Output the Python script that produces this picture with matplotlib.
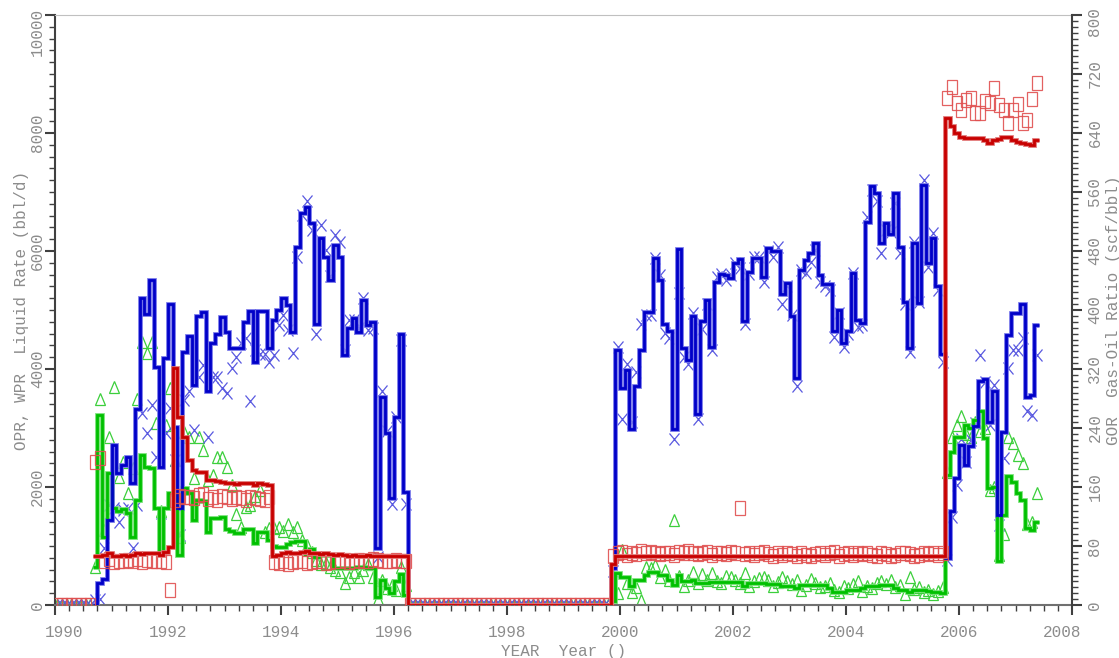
import numpy as np
import matplotlib
matplotlib.use("Agg")
import matplotlib.pyplot as plt
from matplotlib.markers import MarkerStyle
from matplotlib.transforms import Affine2D
from matplotlib.ticker import MultipleLocator

plt.rcParams['font.family'] = ['Liberation Mono', 'DejaVu Sans Mono']

# monthly data, first month is Jan 1990
first_year = 1990
n_pre = 8      # Jan-Aug 1990, no production
n_shut = 43    # Apr 1996 - Oct 1999, well shut in

# simulated values (step lines), period 1: Sep 1990 - Mar 1996
opr_sim_1 = [0, 370, 440, 1440, 2710, 2230, 2370, 2510, 2060, 3330,
             5200, 4940, 5510, 4040, 2340, 4180, 5110, 3020, 1640, 4290,
             4560, 3730, 4890, 4970, 3630, 4440, 4600, 4880, 4630, 4350,
             4350, 4350, 4800, 4980, 4120, 4980, 4980, 4360, 4830, 5000,
             5200, 5080, 4630, 6070, 6640, 6740, 6470, 4770, 6215, 5900,
             5510, 6100, 5900, 4240, 4700, 4860, 4630, 5170, 4750, 4800,
             960, 3530, 2910, 1810, 3190, 4600, 1920]
wpr_sim_1 = [650, 3220, 1150, 2240, 1640, 1600, 1620, 1560, 1150, 1780,
             2540, 2340, 2330, 1640, 900, 1640, 1890, 1880, 850, 1990,
             1890, 1440, 1780, 1760, 1240, 1470, 1470, 1490, 1290, 1250,
             1220, 1220, 1280, 1280, 1050, 1230, 1230, 1100, 1000, 990,
             990, 1040, 1070, 1090, 1090, 870, 950, 820, 850, 850,
             850, 620, 620, 620, 620, 620, 650, 650, 620, 620,
             140, 420, 280, 200, 400, 520, 170]
gor_sim_1 = [66, 66, 68, 70, 66, 66, 68, 67, 68, 70,
             69, 70, 71, 70, 68, 72, 79, 321, 255, 228,
             197, 183, 181, 181, 170, 170, 168, 167, 166, 166,
             164, 165, 166, 165, 163, 165, 164, 163, 66, 68,
             70, 72, 71, 70, 72, 73, 71, 70, 69, 70,
             69, 68, 69, 68, 67, 68, 67, 67, 68, 67,
             67, 66, 67, 66, 66, 66, 66]

# period 2: Nov 1999 - May 2007
opr_sim_2 = [620, 4320, 3670, 3980, 2980, 3710, 4330, 4970, 4970, 5880,
             5510, 4760, 4650, 2990, 6030, 4350, 4150, 4900, 3240, 4810,
             5170, 4380, 5480, 5610, 5600, 5540, 5790, 5860, 4820, 5650,
             5880, 5880, 5560, 6050, 6000, 6000, 5270, 5450, 4900, 3840,
             5680, 5850, 5960, 6140, 5600, 5440, 5440, 4650, 5000, 4435,
             4650, 5630, 4830, 4785, 6500, 7100, 6980, 6130, 6470, 6290,
             6990, 6075, 5140, 4350, 6130, 5125, 7120, 5790, 6215, 5400,
             4250, 800, 1600, 2150, 2720, 2380, 2700, 3030, 3800, 3830,
             3100, 3620, 1520, 2940, 4580, 4950, 4950, 5100, 3525, 3560,
             4750]
wpr_sim_2 = [60, 540, 480, 480, 320, 420, 420, 510, 565, 565,
             510, 510, 420, 340, 510, 400, 400, 420, 380, 380,
             380, 395, 395, 395, 395, 395, 395, 395, 320, 380,
             380, 380, 380, 355, 355, 355, 320, 320, 320, 290,
             345, 345, 345, 340, 340, 340, 290, 225, 225, 225,
             255, 255, 255, 290, 320, 320, 320, 340, 340, 340,
             290, 255, 255, 220, 250, 250, 250, 240, 220, 220,
             200, 2200, 2600, 2850, 2850, 3050, 3000, 3140, 3290, 2830,
             1990, 2000, 740, 1520, 2180, 2090, 1890, 1780, 1300, 1270,
             1400]
gor_sim_2 = [55, 66, 66, 67, 67, 67, 66, 66, 67, 67,
             66, 66, 66, 66, 67, 67, 67, 66, 66, 66,
             66, 66, 66, 66, 66, 66, 66, 66, 66, 66,
             66, 66, 66, 66, 66, 66, 66, 66, 66, 66,
             66, 66, 66, 66, 66, 66, 66, 66, 66, 66,
             66, 66, 66, 66, 66, 66, 66, 66, 66, 66,
             66, 66, 66, 66, 66, 66, 66, 66, 66, 66,
             66, 660, 649, 640, 635, 633, 633, 633, 633, 630,
             626, 631, 632, 634, 634, 630, 628, 626, 625, 624,
             630]

# observed values (markers)
opr_obs_1 = [80, 100, 965, 1695, 1640, 1410, 1610, 1650, 965, 1695,
             3250, 2910, 3390, 2510, 1560, 2910, 3340, 2460, 1190, 3470,
             3620, 2970, 3870, 4070, 2850, 3870, 3870, 3670, 3590, 4010,
             4210, 4435, 4520, 3450, 4320, 4260, 4260, 4120, 4240, 4745,
             4915, 4660, 4265, 5905, 6610, 6840, 6360, 4600, 6440, 6020,
             5570, 6270, 6160, 4320, 4830, 4830, 4690, 5200, 4660, 4700,
             820, 3620, 2950, 1710, 3190, 4490, 1710]
wpr_obs_1 = [650, 3500, 1270, 2850, 3700, 2170, 2430, 1900, 2320, 3500,
             4450, 4270, 4450, 3080, 1600, 3050, 3670, 2460, 1150, 2940,
             2850, 2150, 2850, 2630, 2120, 2200, 2510, 2510, 2340, 2030,
             1550, 1325, 1665, 1700, 1840, 1950, 1240, 1300, 1300, 1325,
             1250, 1380, 1240, 1325, 1100, 1020, 900, 765, 700, 720,
             650, 600, 560, 365, 480, 560, 480, 600, 700, 480,
             110, 420, 280, 340, 255, 650, 340]
gor_obs_1 = [194, 200, 60, 62, 58, 60, 59, 61, 60, 62,
             58, 61, 60, 59, 60, 58, 20, 143, 148, 146,
             147, 145, 149, 150, 144, 146, 143, 148, 147, 144,
             146, 145, 142, 147, 145, 144, 142, 146, 58, 57,
             59, 56, 58, 60, 59, 57, 58, 60, 59, 57,
             58, 59, 60, 61, 58, 60, 61, 59, 60, 62,
             61, 60, 59, 60, 61, 60, 59]
opr_obs_2 = [570, 4380, 3160, 4090, 3100, 3950, 4770, 4910, 4910, 5880,
             5590, 4610, 4520, 2810, 5280, 4200, 4090, 4950, 3160, 4670,
             5100, 4320, 5560, 5610, 5510, 5590, 5790, 5710, 4760, 5610,
             5890, 5900, 5480, 6000, 5900, 6070, 5100, 5400, 4910, 3720,
             5680, 5620, 5820, 6015, 5480, 5400, 5340, 4550, 4950, 4380,
             4600, 5620, 4720, 4740, 6580, 7030, 6840, 5970, 6350, 6330,
             6810, 5970, 5100, 4290, 6160, 5140, 7200, 5735, 6300, 5340,
             4120, 760, 1500, 2030, 2820, 2420, 2790, 3080, 4240, 3780,
             3050, 3730, 1355, 2490, 4010, 4320, 4320, 4520, 3280, 3220,
             4240]
wpr_obs_2 = [50, 200, 940, 370, 225, 300, 85, 650, 620, 680,
             480, 590, 420, 1440, 500, 330, 430, 560, 380, 520,
             420, 540, 410, 380, 500, 480, 420, 380, 550, 330,
             410, 460, 480, 420, 330, 390, 470, 400, 350, 420,
             250, 340, 440, 380, 300, 320, 380, 260, 220, 330,
             280, 360, 400, 230, 320, 280, 380, 410, 350, 420,
             300, 340, 180, 480, 270, 300, 220, 250, 180, 230,
             300, 2250, 2850, 3050, 3200, 2900, 2850, 3100, 2950, 3000,
             1950, 2000, 850, 1200, 2850, 2750, 2550, 2400, 1380, 1400,
             1900]
gor_obs_2 = [66, 70, 72, 68, 71, 69, 73, 70, 72, 71,
             69, 70, 71, 68, 72, 70, 73, 71, 69, 70,
             72, 68, 70, 71, 69, 72, 70, 131, 69, 71,
             68, 70, 72, 69, 67, 70, 68, 71, 69, 67,
             70, 68, 66, 69, 71, 68, 70, 72, 67, 69,
             71, 68, 70, 69, 71, 68, 66, 70, 69, 67,
             68, 70, 71, 69, 67, 68, 70, 69, 71, 68,
             70, 687, 703, 681, 671, 685, 687, 667, 667, 684,
             680, 701, 678, 671, 653, 671, 679, 654, 658, 686,
             708]

year_ticks = [1990, 1992, 1994, 1996, 1998, 2000, 2002, 2004, 2006, 2008]
rate_ticks = [0, 2000, 4000, 6000, 8000, 10000]
gor_ticks = [0, 80, 160, 240, 320, 400, 480, 560, 640, 720, 800]


def series(p1, p2):
    return np.concatenate([np.zeros(n_pre), p1, np.zeros(n_shut), p2])


n_months = n_pre + len(opr_sim_1) + n_shut + len(opr_sim_2)
t = first_year + np.arange(n_months) / 12.0
edges = np.append(t[n_pre:], t[-1] + 1 / 12.0)
t_obs = t + 1 / 24.0

BLUE, GREEN, RED = '#0000c8', '#00c000', '#c80000'
GREY = '#8c8c8c'

fig = plt.figure(figsize=(11.19, 6.58), dpi=100)
ax = fig.add_axes([55 / 1119, 53 / 658, 1017 / 1119, 590 / 658])
ax2 = ax.twinx()

sq = MarkerStyle('s', fillstyle='none', transform=Affine2D().scale(0.68, 1.0))
tri = MarkerStyle('^', fillstyle='none', transform=Affine2D().scale(0.8, 1.0))
cross = MarkerStyle('x', transform=Affine2D().scale(0.85, 1.0))

# observed points
ax.plot(t_obs, series(wpr_obs_1, wpr_obs_2), linestyle='none', marker=tri,
        ms=9, mec='#3ccf3c', mfc='none', mew=0.9, zorder=2)
ax.plot(t_obs, series(opr_obs_1, opr_obs_2), linestyle='none', marker=cross,
        ms=8.5, mec='#5858e0', mew=0.9, zorder=2)
ax2.plot(t_obs, series(gor_obs_1, gor_obs_2), linestyle='none', marker=sq,
         ms=10.5, mec='#e05050', mfc='none', mew=0.9, alpha=0.9, zorder=2)

# simulated step lines (light halo under a dark core)
for vals, col, halo in [(series(wpr_sim_1, wpr_sim_2), GREEN, '#70e070'),
                        (series(opr_sim_1, opr_sim_2), BLUE, '#7070e8')]:
    ax.stairs(vals[n_pre:], edges, baseline=None, color=halo, lw=3.4, zorder=3)
    ax.stairs(vals[n_pre:], edges, baseline=None, color=col, lw=2.0, zorder=4)
gor = series(gor_sim_1, gor_sim_2)
ax2.stairs(gor[n_pre:], edges, baseline=None, color='#e07070', lw=3.4, zorder=3)
ax2.stairs(gor[n_pre:], edges, baseline=None, color=RED, lw=2.0, zorder=4)

ax.set_xlim(1990, 2008)
ax.set_ylim(0, 10000)
ax2.set_ylim(0, 800)

ax.set_xticks(year_ticks)
ax.set_yticks(rate_ticks)
ax2.set_yticks(gor_ticks)
ax.xaxis.set_minor_locator(MultipleLocator(0.25))
ax.yaxis.set_minor_locator(MultipleLocator(200))
ax2.yaxis.set_minor_locator(MultipleLocator(8))

for a in (ax, ax2):
    a.tick_params(which='both', direction='out', color='#404040',
                  labelleft=False, labelbottom=False, labelright=False)
    a.tick_params(which='major', length=7, width=1.5)
    a.tick_params(which='minor', length=4, width=1.0)

ax.spines['right'].set_visible(False)
ax.spines['top'].set_color('#c0c0c0')
ax.spines['left'].set_color('#404040')
ax.spines['left'].set_linewidth(1.5)
ax.spines['bottom'].set_color('#707070')
ax.spines['bottom'].set_linewidth(1.5)
for s in ('top', 'left', 'bottom'):
    ax2.spines[s].set_visible(False)
ax2.spines['right'].set_color('#404040')
ax2.spines['right'].set_linewidth(1.5)

# tick labels as text so the end ones can sit inside like the original
lab = dict(color=GREY, fontsize=11.5, annotation_clip=False,
           textcoords='offset points')
for yr in year_ticks:
    dx = 6.5 if yr == year_ticks[0] else (-7 if yr == year_ticks[-1] else 0)
    ax.annotate(str(yr), xy=(yr, 0), xycoords=('data', 'axes fraction'),
                xytext=(dx, -19.5), ha='center', va='center', **lab)
for v in rate_ticks:
    dy = -12 if v == rate_ticks[-1] else 0
    ax.annotate(str(v), xy=(0, v), xycoords=('axes fraction', 'data'),
                xytext=(-12.5, dy), ha='center', va='center', rotation=90, **lab)
for v in gor_ticks:
    dy = -4.5 if v == gor_ticks[-1] else 0
    ax2.annotate(str(v), xy=(1, v), xycoords=('axes fraction', 'data'),
                 xytext=(16.5, dy), ha='center', va='center', rotation=90, **lab)

ax.set_xlabel('YEAR  Year ()', color=GREY, fontsize=11.5, va='center')
ax.xaxis.set_label_coords(0.5, -0.078)
ax.set_ylabel('OPR, WPR  Liquid Rate (bbl/d)', color=GREY, fontsize=11.5,
              va='center', ha='center')
ax.yaxis.set_label_coords(-0.0325, 0.5)
ax2.set_ylabel('GOR  Gas-Oil Ratio (scf/bbl)', color=GREY, fontsize=11.5,
               va='center', ha='center')
ax2.yaxis.set_label_coords(1.0405, 0.5)

fig.savefig('out.png', dpi=100)
